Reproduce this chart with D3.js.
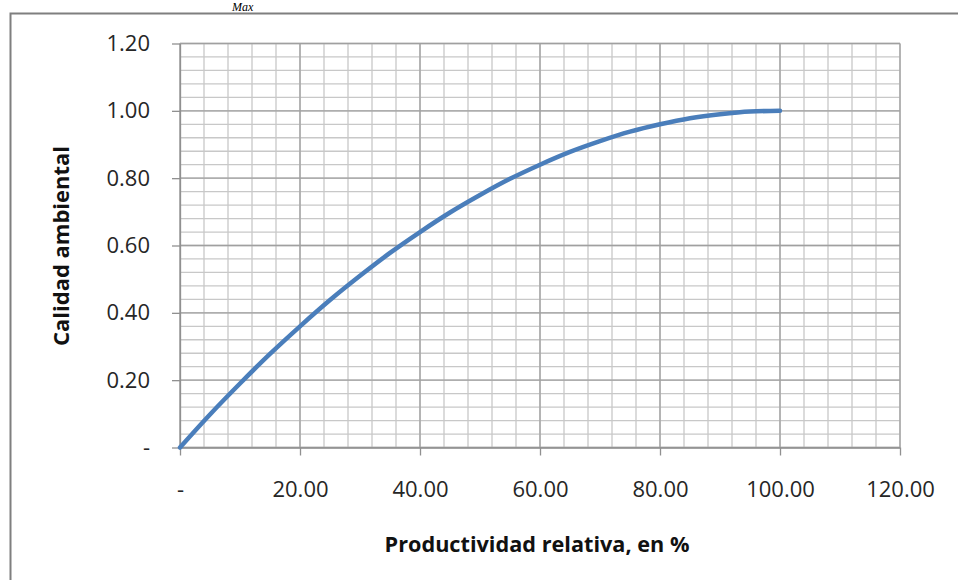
<!DOCTYPE html>
<html><head><meta charset="utf-8">
<script src="https://cdn.jsdelivr.net/npm/d3@7"></script>
<style>body{margin:0;background:#fff;}svg{display:block;}</style>
</head><body>
<svg id="c" width="958" height="580"></svg>
<script>
const xValues = [0,5,10,15,20,25,30,35,40,45,50,55,60,65,70,75,80,85,90,95,100];
const yValues = [0,0.098,0.190,0.278,0.360,0.438,0.510,0.578,0.640,0.698,0.750,0.798,0.840,0.878,0.910,0.938,0.960,0.978,0.990,0.998,1.000];
const xTicks = [0,20,40,60,80,100,120];
const xTickLabels = ["-","20.00","40.00","60.00","80.00","100.00","120.00"];
const yTicks = [0,0.2,0.4,0.6,0.8,1.0,1.2];
const yTickLabels = ["-","0.20","0.40","0.60","0.80","1.00","1.20"];
const xTitle = "Productividad relativa, en %";
const yTitle = "Calidad ambiental";

const svg = d3.select("#c");
const font = "'Open Sans', sans-serif";
const x = d3.scaleLinear().domain([0,120]).range([180,900]);
const y = d3.scaleLinear().domain([0,1.2]).range([447.5,43.5]);

// outer frame
svg.append("path").attr("d","M10.5,580 L10.5,13.5 L958,13.5").attr("fill","none").attr("stroke","#7f7f7f").attr("stroke-width",2);
svg.append("text").attr("x",232).attr("y",11).attr("font-family","'Liberation Serif', serif").attr("font-style","italic").attr("font-size",12).attr("fill","#000").text("Max");

// minor grid
const minorX = d3.range(0,121,4), minorY = d3.range(0,1.2001,0.04);
const g = svg.append("g");
g.selectAll("line.mx").data(minorX).enter().append("line")
 .attr("x1",d=>x(d)).attr("x2",d=>x(d)).attr("y1",y(0)).attr("y2",y(1.2))
 .attr("stroke","#c8c8c8").attr("stroke-width",1.3);
g.selectAll("line.my").data(minorY).enter().append("line")
 .attr("x1",x(0)).attr("x2",x(120)).attr("y1",d=>y(d)).attr("y2",d=>y(d))
 .attr("stroke","#c8c8c8").attr("stroke-width",1.3);
// major grid
g.selectAll("line.Mx").data(xTicks).enter().append("line")
 .attr("x1",d=>x(d)).attr("x2",d=>x(d)).attr("y1",y(0)).attr("y2",y(1.2))
 .attr("stroke","#a0a0a0").attr("stroke-width",1.3);
g.selectAll("line.My").data(yTicks).enter().append("line")
 .attr("x1",x(0)).attr("x2",x(120)).attr("y1",d=>y(d)).attr("y2",d=>y(d))
 .attr("stroke","#a0a0a0").attr("stroke-width",1.3);

// axes
const xAxis = d3.axisBottom(x).tickValues(xTicks).tickFormat((d,i)=>xTickLabels[i]).tickSize(8).tickSizeOuter(0);
const ya = d3.axisLeft(y).tickValues(yTicks).tickFormat((d,i)=>yTickLabels[i]).tickSize(8).tickPadding(22).tickSizeOuter(0);
const gx = svg.append("g").attr("transform",`translate(0,${y(0)})`).call(xAxis);
const gy = svg.append("g").attr("transform",`translate(${x(0)},0)`).call(ya);
[gx,gy].forEach(a=>{
  a.select(".domain").attr("stroke","#909090").attr("stroke-width",1.3);
  a.selectAll(".tick line").attr("stroke","#909090").attr("stroke-width",1.3);
  a.selectAll(".tick text").attr("font-family",font).attr("font-size",22).attr("fill","#262626");
});
gx.selectAll(".tick text").attr("dy",null).attr("y",49);

// curve
svg.append("path").datum(xValues.map((v,i)=>[v,yValues[i]]))
 .attr("d",d3.line().x(d=>x(d[0])).y(d=>y(d[1])).curve(d3.curveMonotoneX))
 .attr("fill","none").attr("stroke","#4a7ebb").attr("stroke-width",4.5).attr("stroke-linecap","round");

// titles (fit to measured widths)
function fit(t, target){ const w=t.node().getComputedTextLength(); const fs=+t.attr("font-size"); t.attr("font-size", fs*target/w); }
const xt = svg.append("text").attr("x",537).attr("y",552).attr("text-anchor","middle").attr("font-family",font).attr("font-weight","bold").attr("font-size",20).attr("fill","#111").text(xTitle);
fit(xt,305);
const yt = svg.append("text").attr("transform","translate(69,246) rotate(-90)").attr("text-anchor","middle").attr("font-family",font).attr("font-weight","bold").attr("font-size",20).attr("fill","#111").text(yTitle);
fit(yt,200);
</script>
</body></html>
